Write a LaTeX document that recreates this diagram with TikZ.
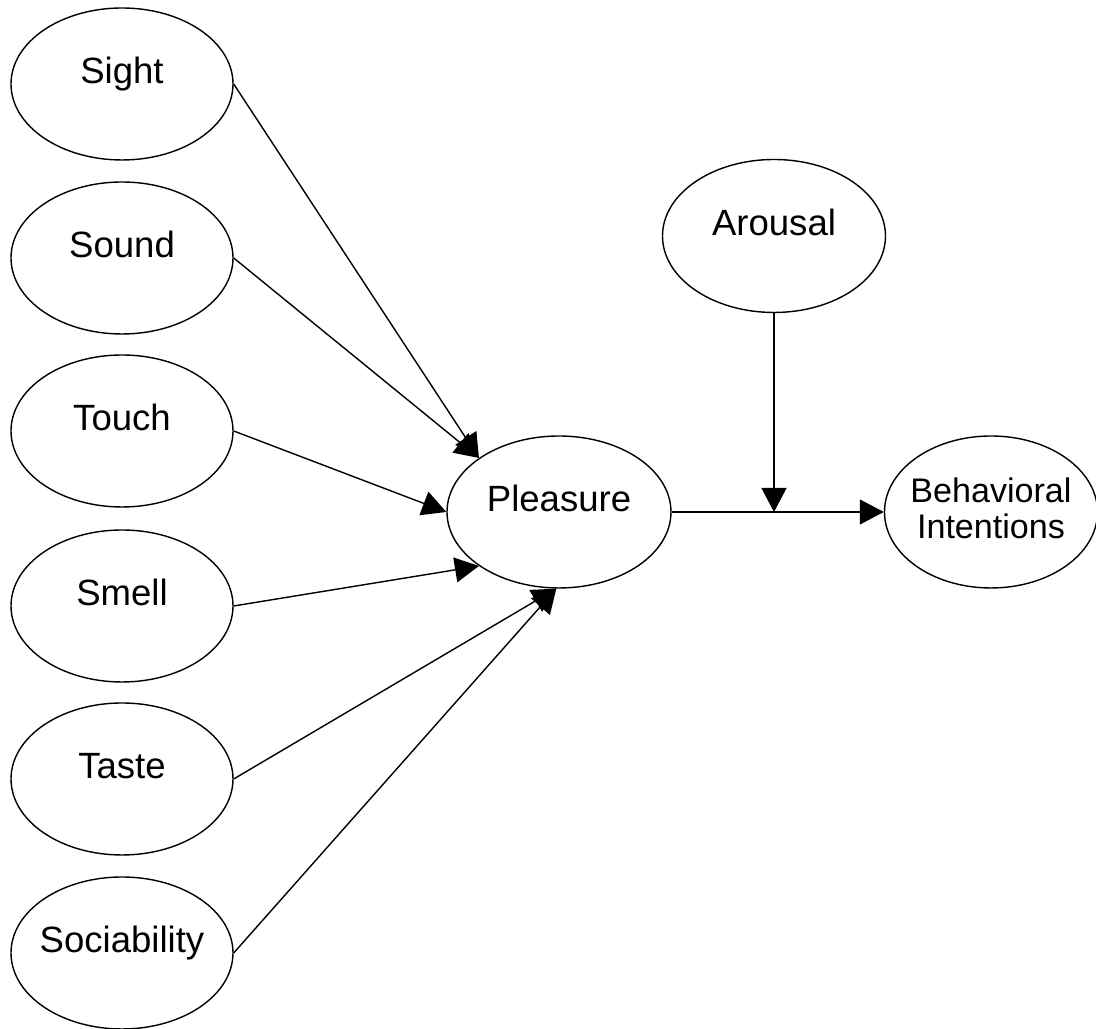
\documentclass[tikz,border=0pt]{standalone}
\usepackage{fontspec}
\setmainfont{Liberation Sans}
\usetikzlibrary{shapes.geometric,arrows.meta}
\def\drawarrow{\draw[-{Triangle[length=2.4mm,width=2.5mm]}]}

\begin{document}
\begin{tikzpicture}[font=\fontsize{10.4}{12}\selectfont,
  sense/.style={ellipse,draw,minimum width=2.22cm,minimum height=1.52cm,
    inner xsep=-2mm,inner ysep=0pt,text height=0pt,text depth=0pt}]
\useasboundingbox (0,0) rectangle (10.96,-10.29);
\node[sense] (sight) at (1.22,-0.84) {Sight};
\node[sense] (sound) at (1.22,-2.58) {Sound};
\node[sense] (touch) at (1.22,-4.31) {Touch};
\node[sense] (smell) at (1.22,-6.06) {Smell};
\node[sense] (taste) at (1.22,-7.79) {Taste};
\node[sense] (social) at (1.22,-9.53) {Sociability};
\node[sense,minimum width=2.24cm] (pleasure) at (5.59,-5.12) {Pleasure};
\node[sense,minimum width=2.23cm,minimum height=1.53cm] (arousal) at (7.74,-2.36) {Arousal};
\node[sense,minimum width=2.13cm,align=center,text height=5.4mm,
  font=\fontsize{9.7}{10.5}\selectfont] (behav) at (9.91,-5.12) {Behavioral\\Intentions};
\drawarrow (sight.east) -- (pleasure.146);
\drawarrow (sound.east) -- (pleasure.146);
\drawarrow (touch.east) -- (pleasure.west);
\drawarrow (smell.east) -- (pleasure.214);
\drawarrow (taste.east) -- (pleasure.268);
\drawarrow (social.east) -- (pleasure.268);
\drawarrow (pleasure.east) -- (behav.west);
\drawarrow (arousal.south) -- (arousal.south |- pleasure.east);
\end{tikzpicture}
\end{document}
